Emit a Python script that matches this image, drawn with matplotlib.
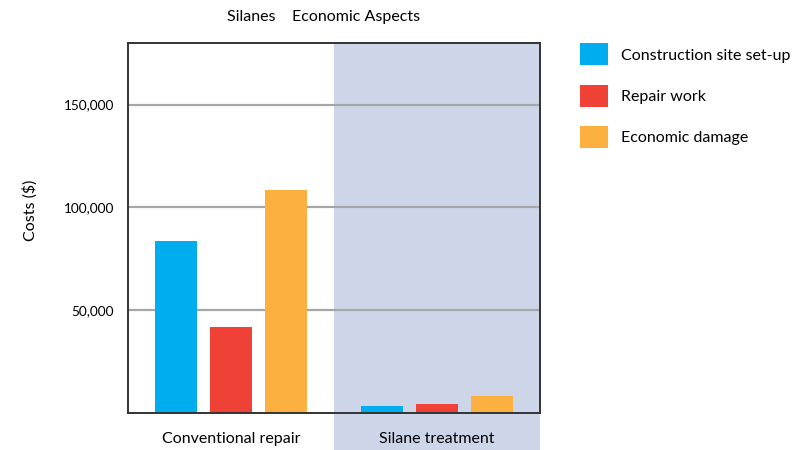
import matplotlib.pyplot as plt
import matplotlib.transforms as mtransforms
from matplotlib.patches import Rectangle, Patch

plt.rcParams['font.family'] = ['Lato', 'DejaVu Sans']

# data
groups = ['Conventional repair', 'Silane treatment']
series = ['Construction site set-up', 'Repair work', 'Economic damage']
values = {
    'Construction site set-up': [83700, 3100],
    'Repair work': [41600, 4100],
    'Economic damage': [108500, 8000],
}
colors = ['#00AEEF', '#EF4136', '#FBB040']
yticks = [50000, 100000, 150000]
ytick_labels = ['50,000', '100,000', '150,000']

fig = plt.figure(figsize=(8.06, 4.5), dpi=100)
ax = fig.add_axes([128 / 806, 1 - 412.5 / 450, 412 / 806, 369.5 / 450])

# shaded second group, reaching down behind its label
trans = mtransforms.blended_transform_factory(ax.transData, ax.transAxes)
ax.add_patch(Rectangle((0.5, -0.11), 1.0, 1.11, transform=trans,
                       facecolor='#CDD6E9', edgecolor='none', clip_on=False, zorder=0))

offset = 0.266
width = 0.205
for i, name in enumerate(series):
    xs = [g + (i - 1) * offset for g in range(len(groups))]
    ax.bar(xs, values[name], width=width, color=colors[i], zorder=3, label=name)

ax.set_xlim(-0.5, 1.5)
ax.set_ylim(0, 180000)
ax.set_yticks(yticks)
ax.set_yticklabels(ytick_labels, fontsize=9.8)
ax.yaxis.grid(True, color='#A6A6A6', linewidth=1.6, zorder=1)
ax.set_axisbelow(True)
ax.tick_params(axis='y', length=0, pad=10)
ax.tick_params(axis='x', length=0, pad=14)
ax.set_xticks(range(len(groups)))
ax.set_xticklabels(groups, fontsize=11.5)
ax.patch.set_alpha(0)
for s in ax.spines.values():
    s.set_color('#333333')
    s.set_linewidth(1.4)
    s.set_zorder(5)

fig.text(30 / 806, 1 - 210 / 450, 'Costs ($)', rotation=90, ha='center', va='center', fontsize=11.5)
fig.text(324 / 806, 1 - 17 / 450, 'Silanes    Economic Aspects', ha='center', va='center', fontsize=11.5)

handles = [Patch(facecolor=c, edgecolor='none') for c in colors]
fig.legend(handles, series, loc='upper left', bbox_to_anchor=(566 / 806, 1 - 29 / 450),
           frameon=False, fontsize=11.5, handlelength=1.75, handleheight=1.75,
           labelspacing=1.2, handletextpad=0.8)

plt.savefig('out.png', dpi=100)
